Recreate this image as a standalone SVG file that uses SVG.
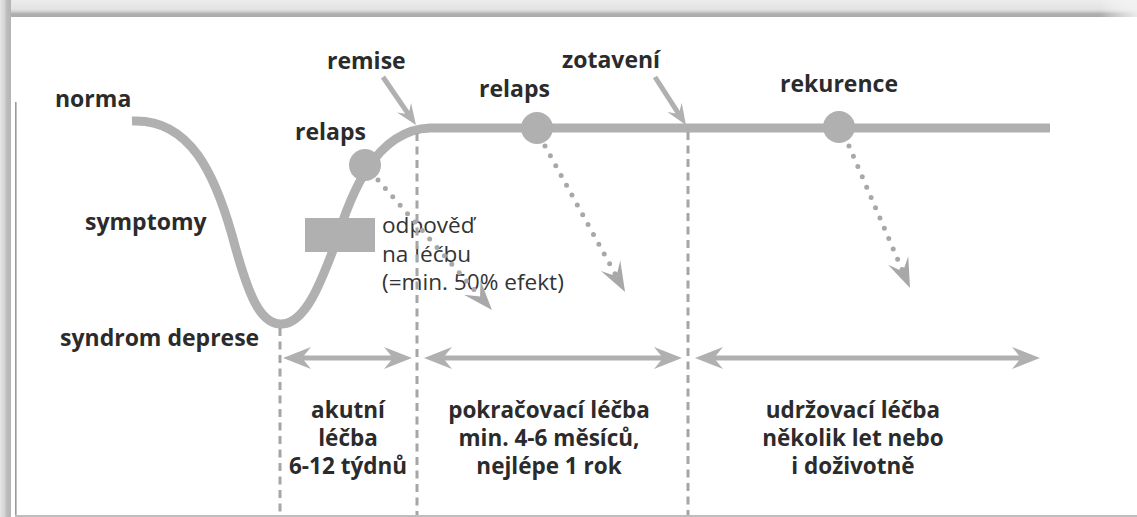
<svg xmlns="http://www.w3.org/2000/svg" width="1137" height="517" viewBox="0 0 1137 517">
<style>
.lbl{font-family:"Open Sans","DejaVu Sans",sans-serif;font-weight:700;font-size:23px;fill:#2b2b2b}
.ph{font-family:"Open Sans","DejaVu Sans",sans-serif;font-weight:700;font-size:22.5px;fill:#2b2b2b;text-anchor:middle}
.reg{font-family:"Open Sans","DejaVu Sans",sans-serif;font-weight:400;font-size:22.6px;fill:#333}
.curve{fill:none;stroke:#b0b0b0;stroke-width:9}
.dot{fill:#b0b0b0}
.dash{stroke:#a6a6a6;stroke-width:3;stroke-dasharray:8 5.5;fill:none}
.span{stroke:#b0b0b0;stroke-width:5;fill:none;marker-start:url(#bigHead);marker-end:url(#bigHead)}
.pointer{stroke:#b0b0b0;stroke-width:5;fill:none;marker-end:url(#smallHead)}
.dotted{stroke:#a8a8a8;stroke-width:5;stroke-linecap:round;stroke-dasharray:0 11.2;fill:none;marker-end:url(#dotHead)}
</style>
<defs>
<linearGradient id="topG" x1="0" y1="0" x2="0" y2="1">
<stop offset="0" stop-color="#ececec"/>
<stop offset="0.55" stop-color="#e3e3e3"/>
<stop offset="0.72" stop-color="#c8c8c8"/>
<stop offset="0.8" stop-color="#b0b0b0"/>
<stop offset="1" stop-color="#ababab"/>
</linearGradient>
<linearGradient id="leftG" x1="0" y1="0" x2="1" y2="0">
<stop offset="0" stop-color="#e6e6e6"/>
<stop offset="0.45" stop-color="#d2d2d2"/>
<stop offset="0.6" stop-color="#bdbdbd"/>
<stop offset="1" stop-color="#b4b4b4"/>
</linearGradient>
<linearGradient id="fadeR" x1="0" y1="0" x2="1" y2="0">
<stop offset="0" stop-color="#ffffff" stop-opacity="0"/>
<stop offset="1" stop-color="#f2f2f2" stop-opacity="0.9"/>
</linearGradient>
<marker id="bigHead" markerUnits="userSpaceOnUse" viewBox="-30 -13 32 26" refX="-19" refY="0" markerWidth="32" markerHeight="26" orient="auto-start-reverse">
<path d="M0,0 L-28,-11 L-19,0 L-28,11 Z" fill="#b0b0b0"/>
</marker>
<marker id="smallHead" markerUnits="userSpaceOnUse" viewBox="-22 -10 24 20" refX="-13" refY="0" markerWidth="24" markerHeight="20" orient="auto">
<path d="M0,0 L-21,-8.5 L-13,0 L-21,8.5 Z" fill="#b0b0b0"/>
</marker>
<marker id="dotHead" markerUnits="userSpaceOnUse" viewBox="-32 -13 34 26" refX="-18" refY="0" markerWidth="34" markerHeight="26" orient="auto">
<path d="M0,0 L-30,-11 L-18,0 L-30,11 Z" fill="#a8a8a8"/>
</marker>
</defs>
<rect width="1137" height="517" fill="#ffffff"/>
<g id="frame">
<rect x="0" y="0" width="1137" height="17" fill="url(#topG)"/>
<rect x="1100" y="0" width="37" height="17" fill="url(#fadeR)"/>
<rect x="0" y="0" width="11" height="517" fill="url(#leftG)"/>
<rect x="15" y="102" width="1.6" height="415" fill="#9a9a9a"/>
<rect x="15" y="515" width="1122" height="2" fill="#bdbdbd"/>
</g>
<g id="axis-labels">
<text class="lbl" x="55" y="107">norma</text>
<text class="lbl" x="85" y="230">symptomy</text>
<text class="lbl" x="60" y="346">syndrom deprese</text>
</g>
<g id="course">
<path class="curve" d="M132,121 C190,118 215,175 232,235 C248,295 260,325 282,324 C305,323 320,285 335,245 C350,195 375,130 430,128 L1050,128"/>
<rect id="response-box" x="305" y="218" width="70" height="34" fill="#b0b0b0"/>
</g>
<g id="node-relaps1">
<circle class="dot" cx="365" cy="165" r="16"/>
<text class="lbl" x="295" y="140">relaps</text>
</g>
<g id="node-relaps2">
<circle class="dot" cx="537" cy="128" r="16"/>
<text class="lbl" x="479" y="97">relaps</text>
</g>
<g id="node-rekurence">
<circle class="dot" cx="839" cy="127" r="16"/>
<text class="lbl" x="780" y="92">rekurence</text>
</g>
<g id="node-remise">
<text class="lbl" x="327" y="69">remise</text>
</g>
<g id="node-zotaveni">
<text class="lbl" x="562" y="68">zotavení</text>
</g>
<g id="node-response">
<text class="reg" x="382" y="233">odpověď</text>
<text class="reg" x="382" y="262">na léčbu</text>
<text class="reg" x="382" y="290">(=min. 50% efekt)</text>
</g>
<g id="connectors">
<line class="dash" x1="280" y1="328" x2="280" y2="515"/>
<line class="dash" x1="417" y1="133" x2="417" y2="515"/>
<line class="dash" x1="688" y1="132" x2="688" y2="515"/>
<path class="pointer" d="M383,77 L408.6,114.3"/>
<path class="pointer" d="M655,77 L678.9,114.1"/>
<path class="dotted" d="M378,180 L480.1,296.5"/>
<path class="dotted" d="M545,146 L616.4,276.2"/>
<path class="dotted" d="M849,146 L902.9,271.5"/>
<path class="span" d="M302,358 L393,358"/>
<path class="span" d="M443,358 L663,358"/>
<path class="span" d="M714,358 L1021,358"/>
</g>
<g id="phase-acute">
<text class="ph" x="348" y="418">akutní</text>
<text class="ph" x="348" y="446">léčba</text>
<text class="ph" x="348" y="474">6-12 týdnů</text>
</g>
<g id="phase-continuation">
<text class="ph" x="549" y="418">pokračovací léčba</text>
<text class="ph" x="549" y="446">min. 4-6 měsíců,</text>
<text class="ph" x="549" y="474">nejlépe 1 rok</text>
</g>
<g id="phase-maintenance">
<text class="ph" x="853" y="418">udržovací léčba</text>
<text class="ph" x="853" y="446">několik let nebo</text>
<text class="ph" x="853" y="474">i doživotně</text>
</g>
</svg>
